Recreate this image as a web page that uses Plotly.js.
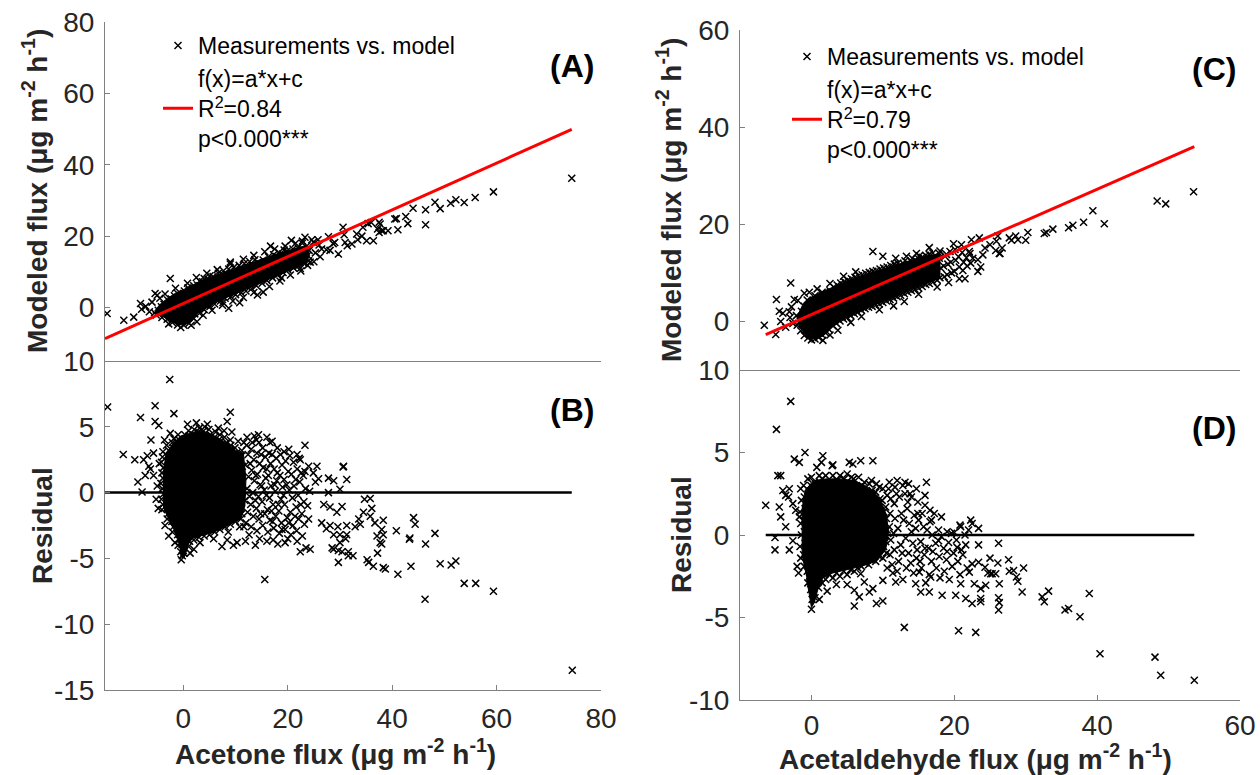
<!DOCTYPE html>
<html>
<head>
<meta charset="utf-8">
<script src="https://cdn.plot.ly/plotly-3.0.1.min.js"></script>
<style>html,body{margin:0;padding:0;background:#fff;}#chart{width:1260px;height:775px;}</style>
</head>
<body>
<div id="chart"></div>
<script>
// ---------- DATA ----------
// Panel A: measured acetone flux vs modeled flux  [measured, modeled]
const acetoneVsModel = [
[-5.2,-2.1],[-4.8,-0.8],[-5.5,-1.5],
[-4.1,-2.8],[-3.9,-1.4],[-4.2,0.2],[-3.7,0.9],
[-3.1,-3.3],[-2.8,-2.0],[-3.2,-0.6],[-2.9,0.8],[-3.0,2.1],
[-2.1,-4.2],[-1.8,-3.0],[-2.2,-1.6],[-1.9,-0.3],[-2.0,1.1],[-2.3,2.4],[-1.7,3.3],
[-1.1,-4.9],[-0.8,-3.7],[-1.2,-2.4],[-0.9,-1.1],[-1.0,0.3],[-1.3,1.6],[-0.7,2.8],[-1.1,3.9],
[0.1,-5.0],[-0.2,-3.9],[0.2,-2.6],[-0.1,-1.3],[0.0,0.0],[0.3,1.3],[-0.3,2.6],[0.1,3.8],[0.2,4.6],
[1.1,-4.4],[0.8,-3.1],[1.2,-1.8],[0.9,-0.5],[1.0,0.9],[1.3,2.2],[0.7,3.5],[1.1,4.7],[0.9,5.5],
[2.0,-3.1],[2.2,-1.8],[1.8,-0.5],[2.1,0.9],[1.9,2.2],[2.3,3.5],[1.7,4.8],[2.0,6.1],
[3.1,-1.6],[2.8,-0.3],[3.2,1.0],[2.9,2.4],[3.0,3.7],[3.3,5.0],[2.7,6.3],[3.1,7.4],
[4.0,-0.6],[4.2,0.8],[3.8,2.1],[4.1,3.4],[3.9,4.8],[4.3,6.1],[3.7,7.2],[4.0,8.1],
[5.1,0.3],[4.8,1.6],[5.2,2.9],[4.9,4.2],[5.0,5.5],[5.3,6.8],[4.7,8.0],[5.1,8.9],
[6.0,1.0],[6.2,2.4],[5.8,3.7],[6.1,5.0],[5.9,6.3],[6.3,7.6],[5.7,8.7],
[7.1,1.8],[6.8,3.1],[7.2,4.4],[6.9,5.7],[7.0,7.0],[7.3,8.3],[6.7,9.6],
[8.0,2.6],[8.2,3.9],[7.8,5.2],[8.1,6.5],[7.9,7.8],[8.3,9.1],[7.7,10.3],
[9.1,3.0],[8.8,4.3],[9.2,5.6],[8.9,6.9],[9.0,8.2],[9.3,9.5],[8.7,10.8],
[10.0,3.6],[10.2,4.9],[9.8,6.2],[10.1,7.5],[9.9,8.8],[10.3,10.1],[9.7,11.3],
[11.1,4.1],[10.8,5.4],[11.2,6.7],[10.9,8.0],[11.0,9.3],[11.3,10.6],[10.7,11.8],
[12.0,4.6],[12.2,5.9],[11.8,7.2],[12.1,8.5],[11.9,9.8],[12.3,11.1],[11.7,12.3],
[13.1,5.3],[12.8,6.6],[13.2,7.9],[12.9,9.2],[13.0,10.5],[13.3,11.8],[12.7,12.9],
[14.0,6.1],[14.2,7.4],[13.8,8.7],[14.1,10.0],[13.9,11.3],[14.3,12.6],[13.7,13.4],
[15.1,6.8],[14.8,8.1],[15.2,9.4],[14.9,10.7],[15.0,12.0],[15.3,13.3],
[16.0,7.6],[16.2,8.9],[15.8,10.2],[16.1,11.5],[15.9,12.8],[16.3,14.2],
[17.1,8.3],[16.8,9.6],[17.2,10.9],[16.9,12.2],[17.0,13.5],[17.3,14.8],
[18.0,9.1],[18.2,10.4],[17.8,11.7],[18.1,13.0],[17.9,14.3],[18.3,15.4],
[19.1,9.8],[18.8,11.1],[19.2,12.4],[18.9,13.7],[19.0,15.0],[19.3,16.1],
[20.0,10.6],[20.2,11.9],[19.8,13.2],[20.1,14.5],[19.9,15.8],
[21.1,11.1],[20.8,12.4],[21.2,13.7],[20.9,15.0],[21.0,16.4],
[22.0,11.6],[22.2,12.9],[21.8,14.2],[22.1,15.5],[21.9,16.8],
[23.1,12.3],[22.8,13.6],[23.2,14.9],[22.9,16.2],
[24.0,13.1],[23.8,14.6],[24.1,16.0],[23.7,17.3],
[-6.5,-1.2],[-7.2,0.3],[-6.0,1.5],[-4.5,2.6],[-3.5,3.8],[-1.5,5.4],[0.8,6.8],[2.5,8.4],[4.5,9.6],
[6.5,10.6],[9.0,12.2],[11.5,13.5],[13.5,14.6],[15.6,15.6],[17.5,16.4],[19.5,17.2],[21.5,18.0],[22.8,18.6],
[-2.8,-4.6],[-0.5,-5.6],[1.5,-5.0],[2.6,-4.0],[3.8,-2.2],[5.5,-0.8],[7.5,0.6],[9.5,1.8],[11.5,2.8],
[13.5,4.2],[16.5,5.9],[18.5,7.4],[20.5,9.1],[22.5,10.2],[23.8,11.8],[18.8,8.3],[14.2,3.5],[10.8,1.3],
[8.7,-0.2],[25.3,15.3],[26.0,17.5],[24.6,19.0],[20.7,18.8],[16.7,17.2],
[-14.6,-1.7],[-11.4,-3.6],[-9.5,-2.7],[-8.2,1.1],[-5.4,3.9],[-5.0,3.4],[-2.5,8.1],[-8.0,-0.5],
[9.0,12.7],[15.3,4.3],[7.6,1.4],[22.4,10.9],[24.3,12.7],[23.3,19.7],[24.9,18.3],[26.5,16.4],
[28.1,16.0],[28.7,17.9],[29.7,15.0],[30.6,22.5],[31.0,18.2],[31.4,17.3],[32.3,17.8],[30.8,20.4],
[33.2,20.6],[34.4,22.5],[35.4,23.5],[36.4,18.7],[35.1,18.7],[37.7,23.4],[38.3,21.5],[39.2,21.5],
[40.5,24.8],[74.4,36.2],[59.4,32.4],[55.9,30.8],[53.8,29.4],[52.2,30.2],[51.2,29.2],[49.2,27.7],
[48.2,29.5],[46.4,27.4],[46.4,23.2],[44.0,27.8],[42.6,25.5],[43.0,23.5],[40.8,24.9],[41.1,21.8],
[38.0,21.5],[37.5,23.9],[37.5,21.0],[37.2,22.0],[25.8,19.0],[25.0,12.8],[22.8,18.0],[27.4,16.2],
[27.8,19.8],[26.2,14.2],[29.0,18.2],[33.4,19.0],[34.2,20.0],[36.0,23.8]
];
// Outline of the saturated (solid black) part of the panel A point cloud  [measured, modeled]
const acetoneModelDenseCore = [
[-5.5,-1.0],[-4.5,0.8],[-3.0,2.6],[-1.5,4.0],[0,5.0],[2,6.4],[3.3,7.3],[6,8.8],[9.6,10.6],[12,11.9],
[14,13.0],[16,14.1],[18,15.0],[20,16.0],[22,16.8],[23.5,17.3],[24.2,14.5],[23.5,12.6],[22.4,11.6],
[20,10.2],[18,8.8],[16,7.7],[14,6.4],[12,5.0],[9.6,3.6],[7,2.0],[5,0.5],[3.3,-0.9],[2.2,-2.5],
[1.2,-4.2],[0.3,-4.8],[-0.8,-4.9],[-1.8,-4.3],[-3.0,-3.2],[-4.2,-2.4],[-5.2,-1.8]
];

// Panel B: measured acetone flux vs residual  [measured, residual]
const acetoneResidual = [
[-4.1,-1.3],[-3.9,-0.9],[-4.2,-0.5],[-3.8,-0.1],[-4.0,0.3],[-4.3,0.7],[-3.9,1.1],[-4.1,1.5],[-3.8,1.9],[-4.2,2.3],[-4.0,2.7],[-3.9,3.1],
[-3.1,-2.0],[-2.9,-1.6],[-3.2,-1.2],[-2.8,-0.8],[-3.0,-0.4],[-3.3,0.0],[-2.9,0.4],[-3.1,0.8],[-2.8,1.2],[-3.2,1.6],[-3.0,2.0],[-2.9,2.4],[-3.1,2.8],[-2.8,3.2],[-3.2,3.6],
[-2.1,-3.0],[-1.9,-2.6],[-2.2,-2.2],[-1.8,-1.8],[-2.0,-1.4],[-2.3,-1.0],[-1.9,-0.6],[-2.1,-0.2],[-1.8,0.2],[-2.2,0.6],[-2.0,1.0],[-1.9,1.4],[-2.1,1.8],[-1.8,2.2],[-2.2,2.6],[-2.0,3.0],[-1.9,3.4],[-2.1,3.8],[-1.8,4.1],
[-1.0,-4.0],[-0.8,-3.6],[-1.1,-3.2],[-0.9,-2.8],[-1.2,-2.4],[-0.8,-2.0],[-1.0,-1.6],[-1.1,-1.2],[-0.9,-0.8],[-1.2,-0.4],[-0.8,0.0],[-1.0,0.4],[-1.1,0.8],[-0.9,1.2],[-1.2,1.6],[-0.8,2.0],[-1.0,2.4],[-1.1,2.8],[-0.9,3.2],[-1.2,3.6],[-0.8,4.0],[-1.0,4.4],
[-0.4,-5.1],[-0.2,-4.8],[-0.5,-4.5],[-0.1,-4.2],[-0.3,-3.9],[0.1,-4.6],
[0.0,-4.4],[0.2,-4.0],[-0.1,-3.6],[0.1,-3.2],[0.3,-2.8],[-0.2,-2.4],[0.0,-2.0],[0.2,-1.6],[-0.1,-1.2],[0.1,-0.8],[0.3,-0.4],[-0.2,0.0],[0.0,0.4],[0.2,0.8],[-0.1,1.2],[0.1,1.6],[0.3,2.0],[-0.2,2.4],[0.0,2.8],[0.2,3.2],[-0.1,3.6],[0.1,4.0],[0.3,4.4],
[1.0,-4.1],[1.2,-3.7],[0.9,-3.3],[1.1,-2.9],[1.3,-2.5],[0.8,-2.1],[1.0,-1.7],[1.2,-1.3],[0.9,-0.9],[1.1,-0.5],[1.3,-0.1],[0.8,0.3],[1.0,0.7],[1.2,1.1],[0.9,1.5],[1.1,1.9],[1.3,2.3],[0.8,2.7],[1.0,3.1],[1.2,3.5],[0.9,3.9],[1.1,4.3],[1.0,4.7],
[2.0,-3.6],[2.2,-3.2],[1.9,-2.8],[2.1,-2.4],[2.3,-2.0],[1.8,-1.6],[2.0,-1.2],[2.2,-0.8],[1.9,-0.4],[2.1,0.0],[2.3,0.4],[1.8,0.8],[2.0,1.2],[2.2,1.6],[1.9,2.0],[2.1,2.4],[2.3,2.8],[1.8,3.2],[2.0,3.6],[2.2,4.0],[1.9,4.4],[2.1,4.8],
[3.0,-3.4],[3.2,-3.0],[2.9,-2.6],[3.1,-2.2],[3.3,-1.8],[2.8,-1.4],[3.0,-1.0],[3.2,-0.6],[2.9,-0.2],[3.1,0.2],[3.3,0.6],[2.8,1.0],[3.0,1.4],[3.2,1.8],[2.9,2.2],[3.1,2.6],[3.3,3.0],[2.8,3.4],[3.0,3.8],[3.2,4.2],[2.9,4.6],[3.1,4.9],
[4.0,-3.3],[4.2,-2.9],[3.9,-2.5],[4.1,-2.1],[4.3,-1.7],[3.8,-1.3],[4.0,-0.9],[4.2,-0.5],[3.9,-0.1],[4.1,0.3],[4.3,0.7],[3.8,1.1],[4.0,1.5],[4.2,1.9],[3.9,2.3],[4.1,2.7],[4.3,3.1],[3.8,3.5],[4.0,3.9],[4.2,4.3],[3.9,4.7],[4.1,5.0],
[5.0,-3.2],[5.2,-2.8],[4.9,-2.4],[5.1,-2.0],[5.3,-1.6],[4.8,-1.2],[5.0,-0.8],[5.2,-0.4],[4.9,0.0],[5.1,0.4],[5.3,0.8],[4.8,1.2],[5.0,1.6],[5.2,2.0],[4.9,2.4],[5.1,2.8],[5.3,3.2],[4.8,3.6],[5.0,4.0],[5.2,4.4],[4.9,4.8],
[6.0,-3.0],[6.2,-2.6],[5.9,-2.2],[6.1,-1.8],[6.3,-1.4],[5.8,-1.0],[6.0,-0.6],[6.2,-0.2],[5.9,0.2],[6.1,0.6],[6.3,1.0],[5.8,1.4],[6.0,1.8],[6.2,2.2],[5.9,2.6],[6.1,3.0],[6.3,3.4],[5.8,3.8],[6.0,4.2],[6.2,4.6],
[7.0,-2.8],[7.2,-2.4],[6.9,-2.0],[7.1,-1.6],[7.3,-1.2],[6.8,-0.8],[7.0,-0.4],[7.2,0.0],[6.9,0.4],[7.1,0.8],[7.3,1.2],[6.8,1.6],[7.0,2.0],[7.2,2.4],[6.9,2.8],[7.1,3.2],[7.3,3.6],[6.8,4.0],[7.0,4.4],
[8.0,-2.6],[8.2,-2.2],[7.9,-1.8],[8.1,-1.4],[8.3,-1.0],[7.8,-0.6],[8.0,-0.2],[8.2,0.2],[7.9,0.6],[8.1,1.0],[8.3,1.4],[7.8,1.8],[8.0,2.2],[8.2,2.6],[7.9,3.0],[8.1,3.4],[8.3,3.8],[7.9,4.2],
[9.0,-2.4],[9.2,-2.0],[8.9,-1.6],[9.1,-1.2],[9.3,-0.8],[8.8,-0.4],[9.0,0.0],[9.2,0.4],[8.9,0.8],[9.1,1.2],[9.3,1.6],[8.8,2.0],[9.0,2.4],[9.2,2.8],[8.9,3.2],[9.1,3.6],[9.0,4.0],
[10.0,-2.2],[10.2,-1.8],[9.9,-1.4],[10.1,-1.0],[10.3,-0.6],[9.8,-0.2],[10.0,0.2],[10.2,0.6],[9.9,1.0],[10.1,1.4],[10.3,1.8],[9.8,2.2],[10.0,2.6],[10.2,3.0],[9.9,3.4],
[11.0,-2.0],[11.2,-1.6],[10.9,-1.2],[11.1,-0.8],[11.3,-0.4],[10.8,0.0],[11.0,0.4],[11.2,0.8],[10.9,1.2],[11.1,1.6],[11.3,2.0],[10.8,2.4],[11.0,2.8],[11.2,3.2],
[12.0,-2.3],[12.3,-1.5],[11.8,-0.6],[12.2,0.3],[12.5,1.2],[11.9,2.1],[12.4,2.9],[12.1,3.6],
[13.0,-2.6],[13.4,-1.8],[12.9,-0.9],[13.3,0.0],[13.6,0.9],[13.1,1.7],[13.5,2.5],[13.0,3.3],[13.6,4.3],
[14.1,-2.9],[14.5,-2.0],[14.0,-1.2],[14.4,-0.3],[14.7,0.6],[14.2,1.4],[14.6,2.2],[14.1,3.0],[14.5,3.8],
[15.2,-2.5],[15.6,-1.6],[15.1,-0.7],[15.5,0.2],[15.8,1.1],[15.3,1.9],[15.7,2.7],[15.2,3.4],
[16.2,-3.0],[16.6,-2.1],[16.1,-1.3],[16.5,-0.4],[16.8,0.5],[16.3,1.3],[16.7,2.2],[16.4,3.0],[16.6,3.8],
[17.3,-2.7],[17.7,-1.8],[17.2,-0.9],[17.6,0.1],[17.9,0.9],[17.4,1.8],[17.8,2.6],
[18.4,-3.1],[18.8,-2.3],[18.3,-1.4],[18.7,-0.5],[19.0,0.4],[18.5,1.3],[18.9,2.1],[18.6,2.9],
[19.5,-2.8],[19.9,-1.9],[19.4,-0.9],[19.8,0.6],[20.1,1.6],[19.6,2.4],
[20.6,-3.2],[21.0,-2.5],[20.5,-1.5],[20.9,-0.4],[21.2,0.5],[20.7,1.4],[21.1,2.3],
[21.7,-2.9],[22.1,-2.0],[21.6,-1.1],[22.0,-0.2],[22.3,0.8],[21.8,1.8],[22.2,2.6],
[22.8,-3.3],[23.2,-2.4],[22.7,-1.6],[23.1,-0.7],[23.4,0.3],[23.0,1.3],
[24.0,-2.0],[23.8,-1.0],[24.2,0.1],
[11.6,-2.6],[12.7,-0.3],[12.8,2.2],[13.8,-0.6],[13.9,1.3],[14.8,-1.6],[14.9,2.9],[15.9,-0.2],[15.0,0.5],[16.0,1.8],
[16.9,-1.4],[17.0,2.9],[17.1,-2.2],[17.5,0.6],[18.0,1.5],[18.2,-0.9],[18.9,-2.8],[19.2,-0.2],[19.3,1.0],[20.2,-2.3],
[20.3,0.2],[20.4,2.8],[21.4,-1.8],[21.5,1.0],[22.5,-0.9],[22.6,1.5],[12.2,4.2],[13.2,3.8],[14.0,4.0],[16.0,4.2],[18.0,3.4],[19.3,3.1],
[-14.5,6.5],[-2.6,8.6],[-5.4,6.6],[-8.2,5.7],[-5.4,5.4],[-4.7,5.1],[-1.8,6.0],[9.0,6.1],[8.4,5.4],[9.3,4.6],
[-6.2,4.0],[-11.5,2.9],[-9.3,2.5],[-8.7,0.8],[-7.9,0.05],[-7.6,2.5],[-6.9,2.8],[-5.7,3.0],[-6.3,1.8],[-5.7,1.3],
[-7.3,1.3],[-6.6,2.0],[-5.0,0.5],[-5.2,-0.5],[-4.8,-1.2],[-4.6,2.2],[14.4,4.4],[17.0,3.9],[23.3,3.6],[20.2,3.3],
[21.8,2.9],[22.4,2.5],[24.0,2.0],[25.6,2.0],[24.9,1.5],[23.3,1.6],[25.9,1.05],[25.3,0.8],[27.8,1.1],[28.8,0.9],
[30.7,2.0],[31.3,1.0],[30.6,1.95],[27.8,0.0],[30.0,0.25],[26.9,-0.9],[28.1,-1.1],[29.4,-1.5],[30.4,-1.05],[26.5,-2.3],
[28.1,-2.5],[27.4,-2.75],[28.8,-3.2],[30.0,-3.2],[29.6,-2.6],[31.3,-2.5],[31.3,-3.2],[31.1,-3.5],[28.8,-4.3],[30.0,-3.8],
[31.6,-4.5],[29.7,-5.3],[29.7,-4.4],[30.4,-4.5],[28.5,-4.2],[31.6,-4.8],[32.5,-4.8],[15.6,-6.6],[22.4,-4.5],[24.3,-4.3],
[21.8,-3.7],[19.5,-3.8],[16.0,-3.7],[13.8,-4.0],[11.9,-3.7],[9.6,-4.0],[7.4,-4.1],[10.3,-3.8],[8.4,-3.6],[2.0,-4.3],
[34.7,-0.5],[35.8,-0.45],[36.1,-1.2],[35.8,-1.8],[34.5,-1.5],[33.6,-2.0],[33.9,-2.4],[32.9,-2.6],[38.3,-2.1],[36.7,-2.3],
[38.0,-2.8],[38.3,-3.2],[37.1,-3.3],[38.0,-3.9],[37.7,-3.8],[40.8,-2.9],[44.1,-1.9],[44.4,-2.4],[43.4,-3.45],[43.3,-3.55],
[48.2,-3.1],[46.4,-3.9],[37.2,-4.6],[35.2,-5.1],[35.5,-5.3],[38.3,-5.7],[38.7,-5.8],[41.1,-6.2],[43.6,-5.6],[49.2,-5.4],
[51.3,-5.5],[52.2,-5.2],[53.8,-6.9],[56.0,-6.9],[59.4,-7.5],[46.3,-8.1],[74.5,-13.5],[36.4,-5.6],[-3.5,-2.5],[-2.8,-3.3],
[-1.6,-3.8],[-2.5,4.5],[-3.6,4.0],[0.8,5.2],[2.5,5.3],[4.6,5.2],[6.7,4.9],[7.8,4.7],[10.5,3.9],[11.6,3.8],
[1.3,-4.6],[3.2,-3.8],[5.8,-3.5],[8.6,-3.0],[10.8,-2.6],[12.6,-3.2],[14.6,-3.5],[17.2,-3.6],[18.1,-3.9],[20.0,-3.5],[23.5,-4.2]
];
// Outline of the saturated part of the panel B cloud  [measured, residual]
const acetoneResidualDenseCore = [
[-3.8,-1.2],[-3.8,1.5],[-3.3,3.0],[-1.8,3.8],[-0.5,4.3],[1,4.5],[3,4.7],[5,4.5],[7,4.1],[8.5,3.7],[10,3.2],
[11.5,3.0],[12,1.0],[11.8,-1.0],[11,-2.0],[9,-2.4],[7,-2.8],[5,-3.1],[3,-3.3],[1.5,-3.5],[0.8,-4.1],
[0.3,-4.8],[-0.2,-5.0],[-0.6,-4.4],[-1.0,-3.6],[-1.8,-2.8],[-2.8,-2.1]
];

// Panel C: measured acetaldehyde flux vs modeled flux  [measured, modeled]
const acetaldehydeVsModel = [
[-2.0,-0.8],[-2.1,1.2],[-1.5,-1.9],[-1.6,0.1],[-1.4,2.1],[-1.0,-2.9],[-0.9,-0.9],[-1.1,1.1],[-1.0,3.1],
[-0.5,-3.4],[-0.6,-1.4],[-0.4,0.6],[-0.5,2.6],[-0.6,4.4],[0.0,-3.8],[0.1,-2.0],[-0.1,0.0],[0.0,2.0],[0.1,3.9],
[0.5,-3.6],[0.4,-1.6],[0.6,0.4],[0.5,2.4],[0.4,4.3],[0.5,5.3],[1.0,-3.3],[1.1,-1.3],[0.9,0.7],[1.0,2.7],[1.1,4.7],
[1.5,-2.8],[1.6,-0.8],[1.4,1.2],[1.5,3.2],[1.6,5.2],[1.5,6.0],[2.0,-2.4],[2.1,-0.4],[1.9,1.6],[2.0,3.6],[2.1,5.6],
[2.5,-1.7],[2.6,0.3],[2.4,2.3],[2.5,4.3],[2.6,6.3],[3.0,-0.9],[3.1,1.1],[2.9,3.1],[3.0,5.1],[3.1,7.1],
[3.5,-0.4],[3.6,1.6],[3.4,3.6],[3.5,5.6],[3.6,7.5],[4.0,0.1],[4.1,2.1],[3.9,4.1],[4.0,6.1],[4.1,7.9],
[4.5,0.5],[4.6,2.5],[4.4,4.5],[4.5,6.5],[4.6,8.2],[5.0,0.8],[5.1,2.8],[4.9,4.8],[5.0,6.8],[5.1,8.5],
[5.5,1.2],[5.6,3.2],[5.4,5.2],[5.5,7.2],[5.6,8.8],[6.0,1.6],[6.1,3.6],[5.9,5.6],[6.0,7.6],[6.1,9.1],
[6.5,1.9],[6.6,3.9],[6.4,5.9],[6.5,7.9],[6.6,9.4],[7.0,2.3],[7.1,4.3],[6.9,6.3],[7.0,8.3],[7.1,9.6],
[7.5,2.6],[7.6,4.6],[7.4,6.6],[7.5,8.6],[7.6,9.9],[8.0,2.9],[8.1,4.9],[7.9,6.9],[8.0,8.9],[8.1,10.1],
[8.5,3.1],[8.6,5.1],[8.4,7.1],[8.5,9.1],[8.6,10.3],[9.0,3.4],[9.1,5.4],[8.9,7.4],[9.0,9.4],[9.1,10.5],
[9.5,3.6],[9.6,5.6],[9.4,7.6],[9.5,9.6],[9.6,10.8],[10.0,3.9],[10.1,5.9],[9.9,7.9],[10.0,9.9],[10.1,11.0],
[10.5,4.2],[10.6,6.2],[10.4,8.2],[10.5,10.2],[10.6,11.2],[11.0,4.5],[11.1,6.5],[10.9,8.5],[11.0,10.5],[11.1,11.5],
[11.5,4.8],[11.6,6.8],[11.4,8.8],[11.5,10.8],[11.6,11.8],[12.0,5.1],[12.1,7.1],[11.9,9.1],[12.0,11.1],[12.1,12.0],
[12.5,5.4],[12.6,7.4],[12.4,9.4],[12.5,11.4],[13.0,5.7],[13.1,7.7],[12.9,9.7],[13.0,11.7],[13.1,12.5],
[13.5,6.0],[13.6,8.0],[13.4,10.0],[13.5,12.0],[14.0,6.3],[14.1,8.3],[13.9,10.3],[14.0,12.3],[14.1,13.0],
[14.5,6.6],[14.6,8.6],[14.4,10.6],[14.5,12.6],[15.0,6.9],[15.1,8.9],[14.9,10.9],[15.0,12.9],[15.1,13.5],
[15.5,7.2],[15.6,9.2],[15.4,11.2],[15.5,13.2],[16.0,7.6],[16.1,9.6],[15.9,11.6],[16.0,13.6],
[16.5,7.8],[16.6,9.8],[16.4,11.8],[16.5,13.8],[17.0,8.1],[17.1,10.1],[16.9,12.1],[17.0,14.1],
[17.6,8.5],[17.5,10.5],[17.4,12.5],[18.0,9.0],[18.1,11.0],[17.9,13.0],[18.0,14.5],[18.6,9.2],[18.5,11.4],[18.7,13.4],
[19.0,9.6],[19.1,11.8],[18.9,13.8],[19.6,10.0],[19.5,12.2],[19.4,14.4],[20.0,10.3],[20.2,12.6],[20.1,14.8],
[20.7,11.2],[20.6,13.3],[21.2,10.5],[21.3,12.2],[21.1,14.2],[21.8,11.4],[21.7,13.1],[22.3,12.0],[22.2,14.0],
[-6.6,-0.8],[-5.0,-2.7],[-4.9,4.5],[-2.9,7.9],[-2.4,4.5],[-1.9,4.3],[-1.0,5.8],[-4.5,2.1],[-4.0,1.7],[-3.1,2.0],
[-4.3,0.0],[-3.6,-1.2],[-3.0,0.8],[-2.6,-0.4],[-2.8,3.0],[13.0,4.1],[16.5,15.2],[20.7,8.8],[23.3,10.3],[26.1,17.6],
[27.7,17.2],[28.6,17.6],[26.3,14.0],[25.8,14.6],[24.3,15.1],[25.0,15.8],[23.5,17.2],[22.4,16.8],[22.1,14.4],[22.6,13.0],
[23.3,12.7],[8.6,14.4],[10.0,13.4],[13.3,13.4],[14.7,14.0],[17.9,14.0],[53.5,26.7],[48.4,24.8],[49.6,24.2],[39.4,22.8],
[41.0,20.1],[38.1,20.4],[36.6,19.8],[36.0,19.3],[33.8,19.0],[32.9,18.3],[32.6,18.1],[30.3,18.3],[28.9,16.8],[30.0,16.7],
[28.0,16.7],[26.7,15.1],[26.4,14.0],[25.9,16.5],[24.0,13.7],[23.7,11.2],[21.5,8.8],[19.2,8.0],[17.6,7.1],[15.0,5.6],
[11.5,3.2],[9.5,2.4],[7.0,1.0],[5.5,-0.2],[3.7,-1.8],[2.6,-2.8],[1.6,-3.9],[6.2,10.2],[4.5,9.3],[2.6,7.8],
[0.8,6.7],[-0.3,6.0],[11.8,13.0],[19.9,16.0],[21.0,15.8]
];
// Outline of the saturated part of the panel C cloud  [measured, modeled]
const acetaldehydeModelDenseCore = [
[-2.0,1.0],[-1.2,3.5],[-0.5,4.6],[1,5.8],[3.9,7.6],[6,8.9],[8.6,10.1],[10.5,11.0],[12.3,11.8],[14,12.6],[16,13.4],[18,14.0],
[18,9.0],[16,7.8],[14,6.6],[12.3,5.4],[10.5,4.4],[8.6,3.3],[6,1.6],[3.9,0.2],[2.6,-1.5],[1.6,-3.0],[0.5,-3.6],[-0.3,-3.5],[-1.0,-2.5],[-1.8,-0.8]
];

// Panel D: measured acetaldehyde flux vs residual  [measured, residual]
const acetaldehydeResidual = [
[-1.5,-1.4],[-1.6,-0.7],[-1.4,0.0],[-1.5,0.7],[-1.6,1.4],[-1.4,2.1],[-1.5,2.8],
[-1.0,-1.9],[-1.1,-1.2],[-0.9,-0.5],[-1.0,0.2],[-1.1,0.9],[-0.9,1.6],[-1.0,2.3],[-1.1,3.0],
[-0.5,-2.9],[-0.6,-2.2],[-0.4,-1.5],[-0.5,-0.8],[-0.6,-0.1],[-0.4,0.6],[-0.5,1.3],[-0.6,2.0],[-0.4,2.7],[-0.5,3.4],
[0.0,-4.5],[0.1,-3.9],[-0.1,-3.3],[0.0,-2.6],[0.1,-1.9],[-0.1,-1.2],[0.0,-0.5],[0.1,0.2],[-0.1,0.9],[0.0,1.6],[0.1,2.3],[-0.1,3.0],[0.0,3.5],
[0.5,-3.8],[0.4,-3.1],[0.6,-2.4],[0.5,-1.7],[0.4,-1.0],[0.6,-0.3],[0.5,0.4],[0.4,1.1],[0.6,1.8],[0.5,2.5],[0.4,3.2],
[1.0,-3.2],[1.1,-2.6],[0.9,-1.9],[1.0,-1.2],[1.1,-0.5],[0.9,0.2],[1.0,0.9],[1.1,1.6],[0.9,2.3],[1.0,3.0],[1.1,3.6],
[1.5,-2.9],[1.4,-2.2],[1.6,-1.5],[1.5,-0.8],[1.4,-0.1],[1.6,0.6],[1.5,1.3],[1.4,2.0],[1.6,2.7],[1.5,3.4],
[2.0,-2.7],[2.1,-2.0],[1.9,-1.3],[2.0,-0.6],[2.1,0.1],[1.9,0.8],[2.0,1.5],[2.1,2.2],[1.9,2.9],[2.0,3.6],
[2.5,-2.4],[2.4,-1.7],[2.6,-1.0],[2.5,-0.3],[2.4,0.4],[2.6,1.1],[2.5,1.8],[2.4,2.5],[2.6,3.2],
[3.0,-2.6],[3.1,-1.9],[2.9,-1.2],[3.0,-0.5],[3.1,0.2],[2.9,0.9],[3.0,1.6],[3.1,2.3],[2.9,3.0],[3.0,3.6],
[3.5,-2.3],[3.4,-1.6],[3.6,-0.9],[3.5,-0.2],[3.4,0.5],[3.6,1.2],[3.5,1.9],[3.4,2.6],[3.6,3.3],
[4.0,-2.5],[4.1,-1.8],[3.9,-1.1],[4.0,-0.4],[4.1,0.3],[3.9,1.0],[4.0,1.7],[4.1,2.4],[3.9,3.1],[4.0,3.6],
[4.5,-2.2],[4.4,-1.5],[4.6,-0.8],[4.5,-0.1],[4.4,0.6],[4.6,1.3],[4.5,2.0],[4.4,2.7],[4.6,3.4],
[5.0,-2.4],[5.1,-1.7],[4.9,-1.0],[5.0,-0.3],[5.1,0.4],[4.9,1.1],[5.0,1.8],[5.1,2.5],[4.9,3.2],[5.0,3.7],
[5.5,-2.1],[5.4,-1.4],[5.6,-0.7],[5.5,0.0],[5.4,0.7],[5.6,1.4],[5.5,2.1],[5.4,2.8],[5.6,3.5],
[6.0,-2.2],[6.1,-1.5],[5.9,-0.8],[6.0,-0.1],[6.1,0.6],[5.9,1.3],[6.0,2.0],[6.1,2.7],[5.9,3.4],
[6.5,-2.0],[6.4,-1.3],[6.6,-0.6],[6.5,0.1],[6.4,0.8],[6.6,1.5],[6.5,2.2],[6.4,2.9],[6.6,3.5],
[7.0,-1.9],[7.1,-1.2],[6.9,-0.5],[7.0,0.2],[7.1,0.9],[6.9,1.6],[7.0,2.3],[7.1,3.0],
[7.5,-1.7],[7.4,-1.0],[7.6,-0.3],[7.5,0.4],[7.4,1.1],[7.6,1.8],[7.5,2.5],[7.4,3.2],
[8.0,-1.8],[8.1,-1.1],[7.9,-0.4],[8.0,0.3],[8.1,1.0],[7.9,1.7],[8.0,2.4],[8.1,3.1],
[8.5,-1.5],[8.4,-0.8],[8.6,-0.1],[8.5,0.6],[8.4,1.3],[8.6,2.0],[8.5,2.7],[8.4,3.3],
[9.0,-1.6],[9.1,-0.9],[8.9,-0.2],[9.0,0.5],[9.1,1.2],[8.9,1.9],[9.0,2.6],[9.1,3.1],
[9.5,-1.3],[9.4,-0.6],[9.6,0.1],[9.5,0.8],[9.4,1.5],[9.6,2.2],[9.5,2.9],
[10.0,-1.4],[10.1,-0.7],[9.9,0.0],[10.0,0.7],[10.1,1.4],[9.9,2.1],[10.0,2.8],
[10.5,-1.1],[10.4,-0.4],[10.6,0.3],[10.5,1.0],[10.4,1.7],[10.6,2.4],
[11.0,-1.2],[11.1,-0.3],[10.9,0.5],[11.0,1.3],[11.1,2.2],
[11.6,-0.9],[11.5,0.1],[11.7,1.0],[11.6,1.9],
[12.2,-1.6],[12.5,-0.6],[12.1,0.4],[12.6,1.3],[12.3,2.3],[12.8,3.0],
[13.3,-2.0],[13.6,-1.1],[13.2,-0.2],[13.7,0.7],[13.4,1.6],[13.8,2.5],
[14.3,-2.3],[14.7,-1.4],[14.2,-0.5],[14.6,0.4],[14.4,1.2],[14.9,2.0],
[15.4,-2.0],[15.8,-1.2],[15.3,-0.4],[15.7,0.5],[15.5,1.3],
[16.5,-2.4],[16.8,-1.6],[16.4,-0.8],[16.9,0.0],[16.6,0.8],
[17.5,-2.0],[17.9,-1.3],[17.4,-0.5],[17.8,0.3],
[18.6,-2.2],[18.9,-1.5],[18.5,-0.8],[19.0,0.2],
[19.7,-1.9],[19.9,-1.1],[20.3,-0.3],[20.8,-2.4],[21.2,-1.2],[21.6,-0.6],[22.0,0.3],
[10.8,2.8],[11.3,-1.8],[11.9,2.5],[12.0,-2.2],[12.7,-1.1],[12.9,0.9],[13.9,-1.7],[14.0,0.2],[13.5,2.0],[14.8,-0.9],
[15.0,0.9],[15.2,-1.6],[15.9,-0.8],[16.2,0.3],[16.0,-2.9],[17.0,-1.0],[17.2,1.3],[18.0,-2.6],[18.2,-0.1],[19.0,-1.0],
[19.3,-2.7],[20.5,-1.6],[21.0,-0.9],[21.8,-2.0],
[-2.9,8.1],[-4.9,6.4],[-0.9,5.0],[-2.4,4.6],[-1.7,4.4],[0.75,4.1],[1.4,4.4],[1.6,4.8],[2.9,4.2],[3.0,4.25],
[5.3,4.4],[5.8,4.3],[6.9,4.5],[8.6,4.5],[-4.7,3.6],[-4.3,3.6],[-4.0,2.7],[-3.1,2.8],[-3.6,2.4],[-4.5,1.7],
[-4.3,1.1],[-3.6,0.5],[-3.2,2.3],[-2.6,1.9],[-2.2,1.5],[-1.7,1.1],[-6.4,1.8],[-5.1,-0.15],[-5.1,-0.9],[-3.1,-0.9],
[-2.6,-0.35],[-2.0,-1.9],[-1.8,-2.3],[10.9,3.2],[11.7,2.9],[13.1,3.2],[14.7,2.8],[16.1,3.2],[13.1,2.5],[14.0,2.3],
[15.9,2.4],[15.9,1.8],[14.9,1.3],[16.6,1.5],[18.2,1.1],[16.8,0.9],[20.9,0.5],[22.5,0.7],[23.4,0.4],[19.6,0.1],
[21.5,0.0],[17.8,-0.35],[19.2,-0.45],[20.4,-0.75],[23.4,-0.6],[22.5,-1.75],[23.4,-1.65],[22.1,-2.25],[22.8,-2.95],[20.9,-2.95],
[20.2,-3.65],[21.6,-3.85],[22.5,-4.15],[23.7,-4.05],[24.4,-3.05],[25.1,-2.35],[25.8,-2.35],[18.3,-3.65],[16.5,-3.45],[15.3,-3.45],
[14.6,-2.95],[16.7,-2.55],[15.1,-2.25],[11.8,-2.85],[10.0,-2.75],[8.6,-3.25],[7.4,-2.85],[6.0,-3.35],[6.7,-3.75],[6.0,-4.3],
[9.1,-4.15],[10.0,-4.0],[6.9,-2.35],[8.1,-3.45],[13.0,-5.6],[26.2,-0.5],[25.0,-1.4],[24.3,-1.95],[24.7,-2.3],[25.3,-2.35],
[27.7,-2.2],[28.3,-2.15],[29.7,-2.0],[28.7,-2.55],[28.9,-2.8],[26.3,-2.95],[23.7,-3.25],[29.5,-3.45],[23.7,-3.85],[26.2,-3.8],
[26.3,-4.1],[26.2,-4.55],[32.3,-3.75],[32.6,-4.05],[33.2,-3.4],[35.5,-4.55],[36.0,-4.45],[37.6,-4.95],[38.9,-3.55],[23.0,-5.9],
[20.6,-5.8],[40.4,-7.2],[48.1,-7.4],[48.9,-8.5],[53.6,-8.8],[20.0,0.15],[20.8,0.6],[22.3,0.9],[26.1,-1.7],[27.6,-1.5],
[12.0,3.3],[13.6,3.1],[11.4,-2.3],[12.8,-2.7],[10.6,-2.0],[3.5,-3.0],[5.0,-3.0],[2.2,-3.4],[1.1,-3.9]
];
// Outline of the saturated part of the panel D cloud  [measured, residual]
const acetaldehydeResidualDenseCore = [
[-1.3,-1.4],[-1.3,1.6],[-0.9,2.7],[0.3,3.3],[2,3.4],[4,3.4],[6,3.3],[7.5,3.0],[8.8,2.6],[9.8,2.0],[10.5,1.2],
[10.8,0.2],[10.4,-0.9],[9,-1.6],[7,-1.9],[5,-2.1],[3,-2.3],[1.6,-2.6],[0.9,-3.3],[0.4,-4.1],[0.0,-4.4],[-0.3,-3.6],[-0.7,-2.6]
];

// Fitted lines f(x)=a*x+c (end points) and zero-residual lines
const fitAcetoneX = [-15, 74.4];
const fitAcetoneY = [-8.7, 49.9];
const fitAcetaldehydeX = [-6.4, 53.6];
const fitAcetaldehydeY = [-2.7, 36.0];
const zeroAcetoneX = [-15, 74.4];
const zeroAcetaldehydeX = [-6.4, 53.6];
const zeroY = [0, 0];

const legendMeas = 'Measurements vs. model';
const legendFitA = 'f(x)=a*x+c<br>R<sup>2</sup>=0.84<br>p&lt;0.000***';
const legendFitC = 'f(x)=a*x+c<br>R<sup>2</sup>=0.79<br>p&lt;0.000***';

const ticksAcetoneX = [0, 20, 40, 60, 80];
const ticksAcetaldehydeX = [0, 20, 40, 60];
const ticksModelA = [0, 20, 40, 60, 80];
const ticksModelC = [0, 20, 40, 60];
const ticksResidB = [-15, -10, -5, 0, 5, 10];
const tickTextResidB = ['-15', '-10', '-5', '0', '5', '10'];
const ticksResidD = [-10, -5, 0, 5, 10];
const tickTextResidD = ['-10', '-5', '0', '5', '10'];

// ---------- DRAWING ----------
const FONT = 'Liberation Sans, Arial, Helvetica, sans-serif';
const xs = a => a.map(p => p[0]);
const ys = a => a.map(p => p[1]);
const mk = {symbol: 'x-thin', size: 7, line: {width: 1.5, color: '#000'}, color: '#000'};
const core = (arr, xa, ya) => ({x: xs(arr), y: ys(arr), xaxis: xa, yaxis: ya, mode: 'lines', fill: 'toself',
  fillcolor: '#000', line: {width: 1, color: '#000'}, showlegend: false, hoverinfo: 'skip'});

const traces = [
  core(acetoneModelDenseCore, 'x', 'y'),
  {x: xs(acetoneVsModel), y: ys(acetoneVsModel), xaxis: 'x', yaxis: 'y', mode: 'markers', marker: mk,
   name: legendMeas, legend: 'legend', showlegend: true},
  {x: fitAcetoneX, y: fitAcetoneY, xaxis: 'x', yaxis: 'y', mode: 'lines', line: {color: '#ff0000', width: 3},
   name: legendFitA, legend: 'legend', showlegend: true},
  core(acetoneResidualDenseCore, 'x2', 'y2'),
  {x: xs(acetoneResidual), y: ys(acetoneResidual), xaxis: 'x2', yaxis: 'y2', mode: 'markers', marker: mk, showlegend: false},
  {x: zeroAcetoneX, y: zeroY, xaxis: 'x2', yaxis: 'y2', mode: 'lines', line: {color: '#000', width: 2.5}, showlegend: false},
  core(acetaldehydeModelDenseCore, 'x3', 'y3'),
  {x: xs(acetaldehydeVsModel), y: ys(acetaldehydeVsModel), xaxis: 'x3', yaxis: 'y3', mode: 'markers', marker: mk,
   name: legendMeas, legend: 'legend2', showlegend: true},
  {x: fitAcetaldehydeX, y: fitAcetaldehydeY, xaxis: 'x3', yaxis: 'y3', mode: 'lines', line: {color: '#ff0000', width: 3},
   name: legendFitC, legend: 'legend2', showlegend: true},
  core(acetaldehydeResidualDenseCore, 'x4', 'y4'),
  {x: xs(acetaldehydeResidual), y: ys(acetaldehydeResidual), xaxis: 'x4', yaxis: 'y4', mode: 'markers', marker: mk, showlegend: false},
  {x: zeroAcetaldehydeX, y: zeroY, xaxis: 'x4', yaxis: 'y4', mode: 'lines', line: {color: '#000', width: 2.5}, showlegend: false}
];

const W = 1260, H = 775;
const px = v => v / W;
const py = v => 1 - v / H;

const tickFont = {family: FONT, size: 28, color: '#262626'};
const baseAxis = {showgrid: false, zeroline: false, showline: true, linecolor: '#808080', linewidth: 1,
  ticks: 'inside', ticklen: 5, tickcolor: '#808080', tickfont: tickFont, fixedrange: true};

const titleFont = {family: FONT, size: 28, color: '#262626'};
const labelFont = {family: FONT, size: 32, color: '#000'};

const layout = {
  width: W, height: H,
  margin: {l: 0, r: 0, t: 0, b: 0},
  paper_bgcolor: '#fff', plot_bgcolor: '#fff',
  font: {family: FONT, color: '#000'},
  xaxis: Object.assign({}, baseAxis, {domain: [px(105), px(601)], anchor: 'y', range: [-15, 80], tickvals: ticksAcetoneX, ticks: '', showticklabels: false}),
  yaxis: Object.assign({}, baseAxis, {domain: [py(361), py(22)], anchor: 'x', range: [-15, 80], tickvals: ticksModelA, ticklabelstandoff: 4}),
  xaxis2: Object.assign({}, baseAxis, {domain: [px(105), px(601)], anchor: 'y2', range: [-15, 80], tickvals: ticksAcetoneX, ticklabelstandoff: 3}),
  yaxis2: Object.assign({}, baseAxis, {domain: [py(690), py(361)], anchor: 'x2', range: [-15, 10], tickvals: ticksResidB, ticktext: tickTextResidB, ticklabelstandoff: 4}),
  xaxis3: Object.assign({}, baseAxis, {domain: [px(740), px(1240)], anchor: 'y3', range: [-10, 60], tickvals: ticksAcetaldehydeX, ticks: '', showticklabels: false}),
  yaxis3: Object.assign({}, baseAxis, {domain: [py(370), py(30)], anchor: 'x3', range: [-10, 60], tickvals: ticksModelC, ticklabelstandoff: 4}),
  xaxis4: Object.assign({}, baseAxis, {domain: [px(740), px(1240)], anchor: 'y4', range: [-10, 60], tickvals: ticksAcetaldehydeX, ticklabelstandoff: 0}),
  yaxis4: Object.assign({}, baseAxis, {domain: [py(700), py(370)], anchor: 'x4', range: [-10, 10], tickvals: ticksResidD, ticktext: tickTextResidD, ticklabelstandoff: 4}),
  showlegend: true,
  legend: {x: px(158), y: py(24), xanchor: 'left', yanchor: 'top', bgcolor: 'rgba(0,0,0,0)', borderwidth: 0,
    font: {family: FONT, size: 23, color: '#000'}, tracegroupgap: 0},
  legend2: {x: px(787), y: py(35), xanchor: 'left', yanchor: 'top', bgcolor: 'rgba(0,0,0,0)', borderwidth: 0,
    font: {family: FONT, size: 23, color: '#000'}, tracegroupgap: 0},
  annotations: [
    {text: '<b>Modeled flux (μg m<sup>-2</sup> h<sup>-1</sup>)</b>', x: px(35), y: py(191), xref: 'paper', yref: 'paper',
     textangle: -90, showarrow: false, font: titleFont, xanchor: 'center', yanchor: 'middle'},
    {text: '<b>Residual</b>', x: px(42), y: py(526), xref: 'paper', yref: 'paper',
     textangle: -90, showarrow: false, font: titleFont, xanchor: 'center', yanchor: 'middle'},
    {text: '<b>Modeled flux (μg m<sup>-2</sup> h<sup>-1</sup>)</b>', x: px(669), y: py(200), xref: 'paper', yref: 'paper',
     textangle: -90, showarrow: false, font: titleFont, xanchor: 'center', yanchor: 'middle'},
    {text: '<b>Residual</b>', x: px(681), y: py(535), xref: 'paper', yref: 'paper',
     textangle: -90, showarrow: false, font: titleFont, xanchor: 'center', yanchor: 'middle'},
    {text: '<b>Acetone flux (μg m<sup>-2</sup> h<sup>-1</sup>)</b>', x: px(335), y: py(752), xref: 'paper', yref: 'paper',
     showarrow: false, font: titleFont, xanchor: 'center', yanchor: 'middle'},
    {text: '<b>Acetaldehyde flux (μg m<sup>-2</sup> h<sup>-1</sup>)</b>', x: px(975), y: py(757), xref: 'paper', yref: 'paper',
     showarrow: false, font: titleFont, xanchor: 'center', yanchor: 'middle'},
    {text: '<b>(A)</b>', x: px(572), y: py(66), xref: 'paper', yref: 'paper', showarrow: false,
     font: labelFont, xanchor: 'center', yanchor: 'middle'},
    {text: '<b>(B)</b>', x: px(572), y: py(410), xref: 'paper', yref: 'paper', showarrow: false,
     font: labelFont, xanchor: 'center', yanchor: 'middle'},
    {text: '<b>(C)</b>', x: px(1214), y: py(69), xref: 'paper', yref: 'paper', showarrow: false,
     font: labelFont, xanchor: 'center', yanchor: 'middle'},
    {text: '<b>(D)</b>', x: px(1214), y: py(428), xref: 'paper', yref: 'paper', showarrow: false,
     font: labelFont, xanchor: 'center', yanchor: 'middle'}
  ]
};

Plotly.newPlot('chart', traces, layout, {displayModeBar: false, staticPlot: true});
</script>
</body>
</html>
